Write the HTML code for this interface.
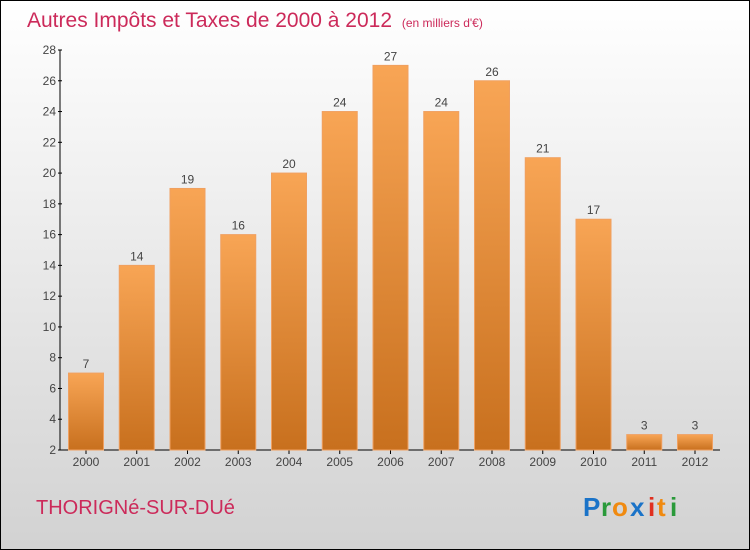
<!DOCTYPE html>
<html><head><meta charset="utf-8"><style>
html,body{margin:0;padding:0}
body{width:750px;height:550px;overflow:hidden;font-family:"Liberation Sans",sans-serif}
#wrap{position:absolute;left:0;top:0;width:748px;height:548px;border:1px solid #000;background:linear-gradient(#ffffff,#d2d2d2)}
</style></head><body>
<div id="wrap">
<svg width="750" height="550" style="position:absolute;left:-1px;top:-1px">
<defs><linearGradient id="bg" x1="0" y1="0" x2="0" y2="1"><stop offset="0" stop-color="#f8a555"/><stop offset="1" stop-color="#c8701e"/></linearGradient></defs>
<text x="27" y="27" font-size="21" fill="#cc2a5a">Autres Impôts et Taxes de 2000 à 2012 <tspan font-size="12" dx="4">(en milliers d'€)</tspan></text>
<g id="axes"></g><g id="bars"></g>
<text x="36" y="514" font-size="20" fill="#cc2a5a">THORIGNé-SUR-DUé</text>
<g font-size="26" font-weight="bold">
<text x="583" y="516" fill="#1a73c8">P</text><text x="601" y="516" fill="#2a9a3a">r</text><text x="612" y="516" fill="#f08a10">o</text><text x="630" y="516" fill="#1a73c8">x</text><text x="648" y="516" fill="#e03020">i</text><text x="657" y="516" fill="#f08a10">t</text><text x="670" y="516" fill="#2a9a3a">i</text>
</g>
</svg></div>
<script>
const years=["2000","2001","2002","2003","2004","2005","2006","2007","2008","2009","2010","2011","2012"];
const values=[7,14,19,16,20,24,27,24,26,21,17,3,3];
const yTicks=[2,4,6,8,10,12,14,16,18,20,22,24,26,28];
const NS="http://www.w3.org/2000/svg";
const y0=450,yMin=2,yMax=28,yTop=50;
const yS=v=>y0-(v-yMin)*(y0-yTop)/(yMax-yMin);
const xS=i=>86+i*50.75;
const ax=document.getElementById('axes'),bs=document.getElementById('bars');
function mk(t,a,p){const e=document.createElementNS(NS,t);for(const k in a)e.setAttribute(k,a[k]);p.appendChild(e);return e;}
let l=mk('line',{x1:60,y1:yTop,x2:60,y2:y0,stroke:'#000'},ax);


l=mk('line',{x1:60,y1:y0,x2:720,y2:y0,stroke:'#000'},ax);


yTicks.forEach(v=>{const y=yS(v);
mk('line',{x1:58,y1:y,x2:62,y2:y,stroke:'#000'},ax);
const t=mk('text',{x:56,y:y+4,'text-anchor':'end','font-size':12,fill:'#444'},ax);t.textContent=v;

});
years.forEach((yr,i)=>{const x=xS(i),v=values[i],y=yS(v);
const r=mk('rect',{x:x-17.5,y:y,width:35,height:y0-y,fill:'url(#bg)',stroke:'#f0a060','stroke-width':1},bs);


const t=mk('text',{x:x,y:y-5,'text-anchor':'middle','font-size':12,fill:'#444'},bs);t.textContent=v;


mk('line',{x1:x,y1:y0,x2:x,y2:y0+4,stroke:'#000'},ax);
const xl=mk('text',{x:x,y:466,'text-anchor':'middle','font-size':12,fill:'#444'},ax);xl.textContent=yr;

});
</script>
</body></html>
